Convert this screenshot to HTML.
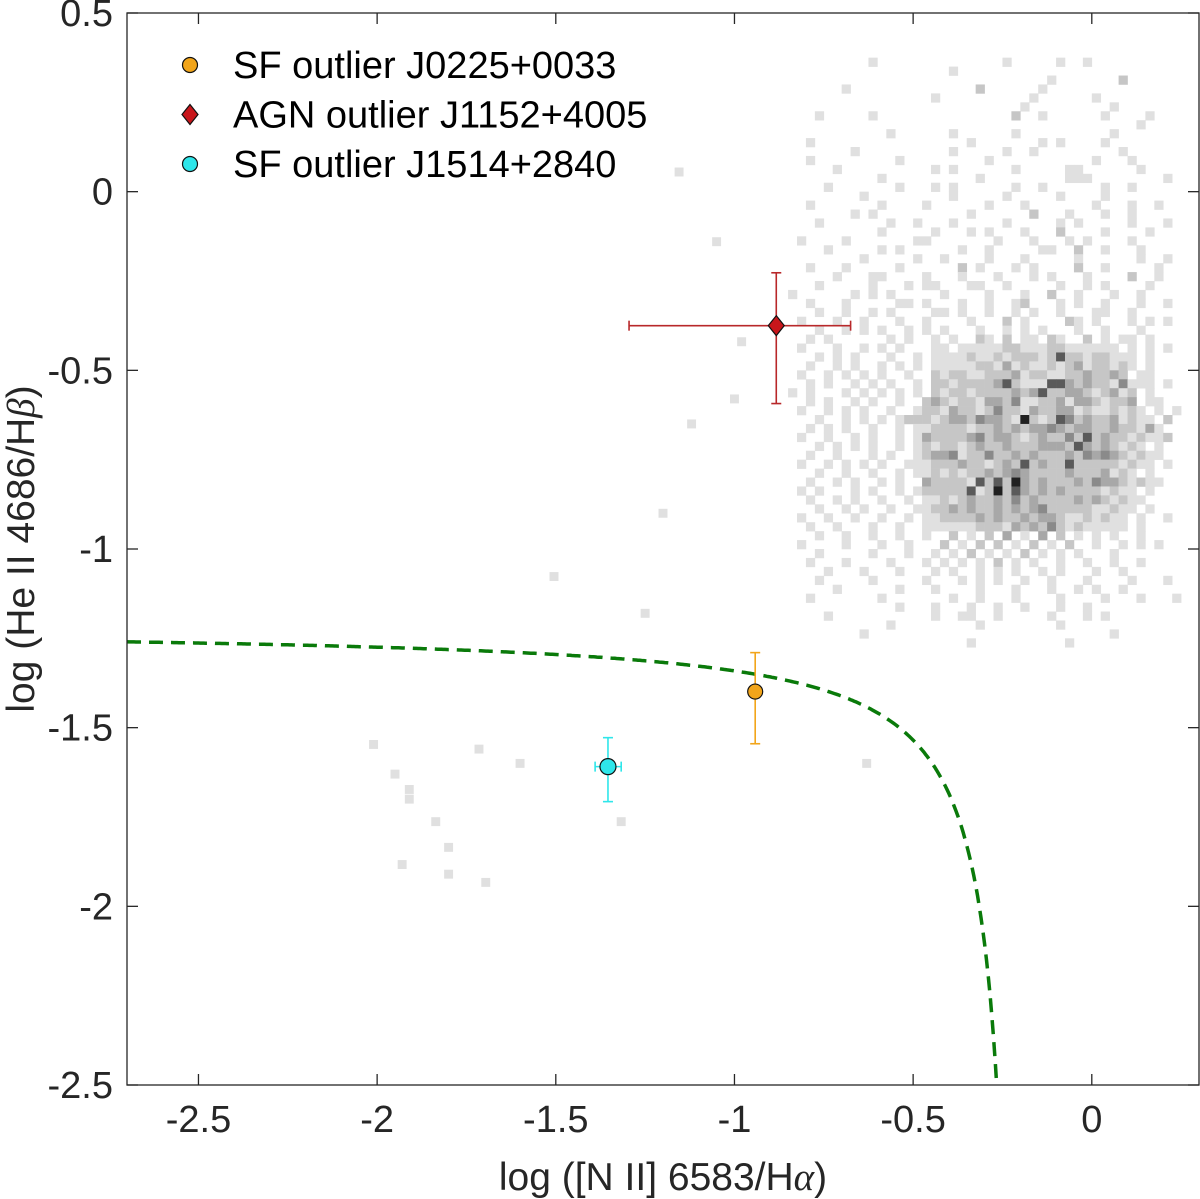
<!DOCTYPE html>
<html><head><meta charset="utf-8"><style>
html,body{margin:0;padding:0;background:#fff;}
svg{display:block;font-family:"Liberation Sans",Arial,sans-serif;}
</style></head><body>
<svg id="chart" width="1200" height="1199" viewBox="0 0 1200 1199" xmlns="http://www.w3.org/2000/svg"></svg>
<script>
const xTicks=[-2.5,-2,-1.5,-1,-0.5,0];
const xTickLabels=["-2.5","-2","-1.5","-1","-0.5","0"];
const yTicks=[0.5,0,-0.5,-1,-1.5,-2,-2.5];
const yTickLabels=["0.5","0","-0.5","-1","-1.5","-2","-2.5"];
const heatX0=-0.85, heatY0=0.4, heatStep=0.025;
const heatRows=[
"............................................",
".........1..............1.....1..1..........",
"..................1.........................",
".............................1.......2......",
"......1..............2......1...............",
"................1..........1......1.........",
"..........................1.........1.......",
"...1.....1...............2..1......1....1...",
".......................................1....",
"...........1......1......1..........1.......",
"..1.................1.......1.1....1........",
".......1..........1.....1..1.........1......",
"..1.........1.........1...........1...1.....",
".....1..........1.1......1.....11......1....",
"..........1..........1.........111........1.",
"....1.......1...1.1......1..1......1..1.....",
"........1.........1.....1.....1....1........",
"..1.......1....1......1...1.......1...1..1..",
".......1.1..........1......2...1...1..1.....",
"...1.......1..1...1.....1.....1.1.....1...1.",
"..........1.....1...1.1...1...2....1....1...",
".1....1.......11.......1...1...1.1....1.....",
"....1.....1.1......1..1.....11..2..1...1....",
"........1.....1..1....1...1.....1......1..1.",
"..1...1.....1......2.1...1.1....2..1.....1..",
".....1...11....1...1...1...1.1...1....2..1..",
"...1.....1...1.11...11..1.....1..1.1....1...",
"1......1.1.1.....1....1...1..2..1...1..1....",
"..1...1.....11.1...1..1..12...1.1..1...1..1.",
"...1..1..1.1....11.1..1..1.1..1...11..1.....",
".1...1..1...1..1....1...2.1....21.1...1.1.1.",
"...1..1.1.1..1.1.1...1..1.1.1...1..1...1....",
"..1.1......1.1..1.1..21.2.11.21..2.1.11.1...",
".1...1..1.1.1...11.111112211122111111.1.1.1.",
"...1.1.1...1..1.11112112122212522122111.1...",
"..1..1.1..1.1.1.11111221312112123122121.1...",
".1..1.1.1.1..1..2122112223122112232232.11...",
"..1.1..1.1.1..1.2212222352111553232214111.1.",
"1.1...1.1.1.1.1.21221222232352233212312.1...",
"..1.1..1.1..1..232122133241122313321223.11..",
".1..1.1.1..1..12213221242213223312112121.1.1",
"...1..1.1.1.12221233243321621254232231211.2.",
"..1.1.1..1..1.1122221223232334323322322131..",
".1..1..1.1..1.13222234233212322425232212112.",
"...1.1.1.1..1.12122123223222333253232121.1..",
"..1..1...1.1..1233412242232322232434321211..",
".1..1.1.1.1..1112223221232523225222221211.1.",
"...1..1..1..1.1121212232343222232223121.1...",
"..1..1.1..1.1..322221525263232223243321211..",
".1.1...1.1..1.1222225126253232322221211.1...",
"..1..1.1..1..1.1121232232423222232321211....",
"...1..1.1..1..1122323223232342222211211.1...",
".1..1..1..1..1.11222232322323321121211.1..1.",
"..1..1...1..1..11111122213232421211111.1....",
"...1..1..1..1..1..2.1.2.3.1.3.2.1.1.1..1....",
".1....1...1..1...2.1.2.2.1.2.1.2..1..1.1.1..",
"...1.....1...1..1.1.2.1.1.2.1.1.1...1.......",
"..1...1....1...1.1.1.1.2.1.1..1..1..1..1....",
"....1...1...1...1.1..1.1.1..1.1...1..1......",
"...1.....1.....1...1.1.1..1..1...1....1...1.",
".....1......1...1....1...1...1..1.1..1......",
"..1.......1.......1..1...1....1....1...1...1",
"............1...1...1..1..1...1..1..........",
"....1...........1..11..1.....1...1.1........",
"...........1.........1........1.............",
"........1...........................1.......",
"....................1..........1............"
];
const strayX=[-2.01,-1.95,-1.91,-1.91,-1.836,-1.80,-1.80,-1.93,-1.696,-1.715,-1.60,-1.317,-1.505,-1.0,-1.05,-1.155,-1.2,-1.12,-0.98,-1.25,-0.63];
const strayY=[-1.547,-1.63,-1.673,-1.70,-1.763,-1.835,-1.91,-1.883,-1.933,-1.56,-1.60,-1.763,-1.077,-0.58,-0.14,0.055,-0.9,-0.65,-0.42,-1.18,-1.6];
const heatColors={"1":"#e0e0e0","2":"#c6c6c6","3":"#a8a8a8","4":"#8a8a8a","5":"#5a5a5a","6":"#202020"};
const pointsX=[-0.942,-0.883,-1.354];
const pointsY=[-1.399,-0.375,-1.609];
const errXlo=[0,0.412,0.036];
const errXhi=[0,0.208,0.037];
const errYlo=[0.146,0.218,0.098];
const errYhi=[0.109,0.148,0.081];
const pointNames=["SF outlier J0225+0033","AGN outlier J1152+4005","SF outlier J1514+2840"];
const curveA=0.0973, curveB=-0.19, curveC=-1.221;

const L=127,R=1199,T=13,B=1085;
const xmin=-2.7,xmax=0.3,ymin=-2.5,ymax=0.5;
const sx=v=>L+(v-xmin)/(xmax-xmin)*(R-L);
const sy=v=>B-(v-ymin)/(ymax-ymin)*(B-T);
const svg=document.getElementById('chart');
const NS='http://www.w3.org/2000/svg';
function mk(tag,attrs,parent){const e=document.createElementNS(NS,tag);for(const k in attrs)e.setAttribute(k,attrs[k]);(parent||svg).appendChild(e);return e;}

const heat=mk('g',{});


heatRows.forEach((row,i)=>{for(let j=0;j<row.length;j++){const c=row[j];if(c==='.')continue;
const x0=heatX0+j*heatStep,y1=heatY0-i*heatStep;
if(x0>=xmax)continue;
const r=mk('rect',{x:sx(x0),y:sy(y1),width:Math.min(sx(x0+heatStep),R)-sx(x0)+0.3,height:sy(y1-heatStep)-sy(y1)+0.3,fill:heatColors[c]},heat);

}});
strayX.forEach((x,i)=>{const y=strayY[i];
const r=mk('rect',{x:sx(x-heatStep/2),y:sy(y+heatStep/2),width:sx(heatStep)-sx(0),height:sy(0)-sy(heatStep),fill:"#e0e0e0"},heat);

});

let d='';
for(let x=xmin;x<=-0.24;x+=0.005){const y=curveA/(x-curveB)+curveC;if(y<ymin){break;}d+=(d?'L':'M')+sx(x).toFixed(1)+','+sy(y).toFixed(1);}
const yEnd=ymin, xEnd=curveB+curveA/(yEnd-curveC);
d+='L'+sx(xEnd).toFixed(1)+','+sy(yEnd).toFixed(1);
const cur=mk('path',{d:d,fill:'none',stroke:'#0a7a0a','stroke-width':3.5,'stroke-dasharray':'14,8'});



const pcol=['#f2a51a','#c8161b','#2ee6ea'];
const ecol=['#f2a51a','#b8282a','#2ee6ea'];
pointsX.forEach((x,i)=>{const y=pointsY[i];const g=mk('g',{});


const cx=sx(x),cy=sy(y),c=ecol[i];
if(errXlo[i]+errXhi[i]>0){const a=sx(x-errXlo[i]),b=sx(x+errXhi[i]);
mk('line',{x1:a,y1:cy,x2:b,y2:cy,stroke:c,'stroke-width':1.6},g);
mk('line',{x1:a,y1:cy-5,x2:a,y2:cy+5,stroke:c,'stroke-width':1.6},g);
mk('line',{x1:b,y1:cy-5,x2:b,y2:cy+5,stroke:c,'stroke-width':1.6},g);}
const t=sy(y+errYhi[i]),bb=sy(y-errYlo[i]);
mk('line',{x1:cx,y1:t,x2:cx,y2:bb,stroke:c,'stroke-width':1.6},g);
mk('line',{x1:cx-5,y1:t,x2:cx+5,y2:t,stroke:c,'stroke-width':1.6},g);
mk('line',{x1:cx-5,y1:bb,x2:cx+5,y2:bb,stroke:c,'stroke-width':1.6},g);
if(i===1)mk('path',{d:`M${cx},${cy-10}L${cx+8},${cy}L${cx},${cy+10}L${cx-8},${cy}Z`,fill:pcol[i],stroke:'#111','stroke-width':1.2},g);
else mk('circle',{cx:cx,cy:cy,r:i===2?8:7.5,fill:pcol[i],stroke:'#111','stroke-width':1.2},g);
});

const box=mk('rect',{x:L,y:T,width:R-L,height:B-T,fill:'none',stroke:'#262626','stroke-width':1.3});


xTicks.forEach((v,i)=>{const x=sx(v);
mk('line',{x1:x,y1:B,x2:x,y2:B-11,stroke:'#262626','stroke-width':1.3});
mk('line',{x1:x,y1:T,x2:x,y2:T+11,stroke:'#262626','stroke-width':1.3});
const t=mk('text',{x:x,y:B+47,'font-size':38,'text-anchor':'middle',fill:'#262626'});t.textContent=xTickLabels[i];

});
yTicks.forEach((v,i)=>{const y=sy(v);
mk('line',{x1:L,y1:y,x2:L+11,y2:y,stroke:'#262626','stroke-width':1.3});
mk('line',{x1:R,y1:y,x2:R-11,y2:y,stroke:'#262626','stroke-width':1.3});
const t=mk('text',{x:L-14,y:y+13,'font-size':38,'text-anchor':'end',fill:'#262626'});t.textContent=yTickLabels[i];

});

const xl=mk('text',{x:663,y:1190,'font-size':39,'text-anchor':'middle',fill:'#262626'});
xl.innerHTML='log ([N II] 6583/H<tspan font-family="Liberation Serif" font-style="italic">α</tspan>)';


const yl=mk('text',{x:0,y:0,'font-size':39,'text-anchor':'middle',fill:'#262626',transform:'translate(34,549) rotate(-90)'});
yl.innerHTML='log (He II 4686/H<tspan font-family="Liberation Serif" font-style="italic">β</tspan>)';



const lg=mk('g',{});


pointNames.forEach((n,i)=>{const y=65+i*49.5;const e=mk('g',{},lg);


if(i===1)mk('path',{d:`M190,${y-10}L198,${y}L190,${y+10}L182,${y}Z`,fill:pcol[i],stroke:'#111','stroke-width':1.2},e);
else mk('circle',{cx:190,cy:y,r:7.5,fill:pcol[i],stroke:'#111','stroke-width':1.2},e);
const t=mk('text',{x:233,y:y+13,'font-size':38,fill:'#000'},e);t.textContent=n;});
</script>
</body></html>
